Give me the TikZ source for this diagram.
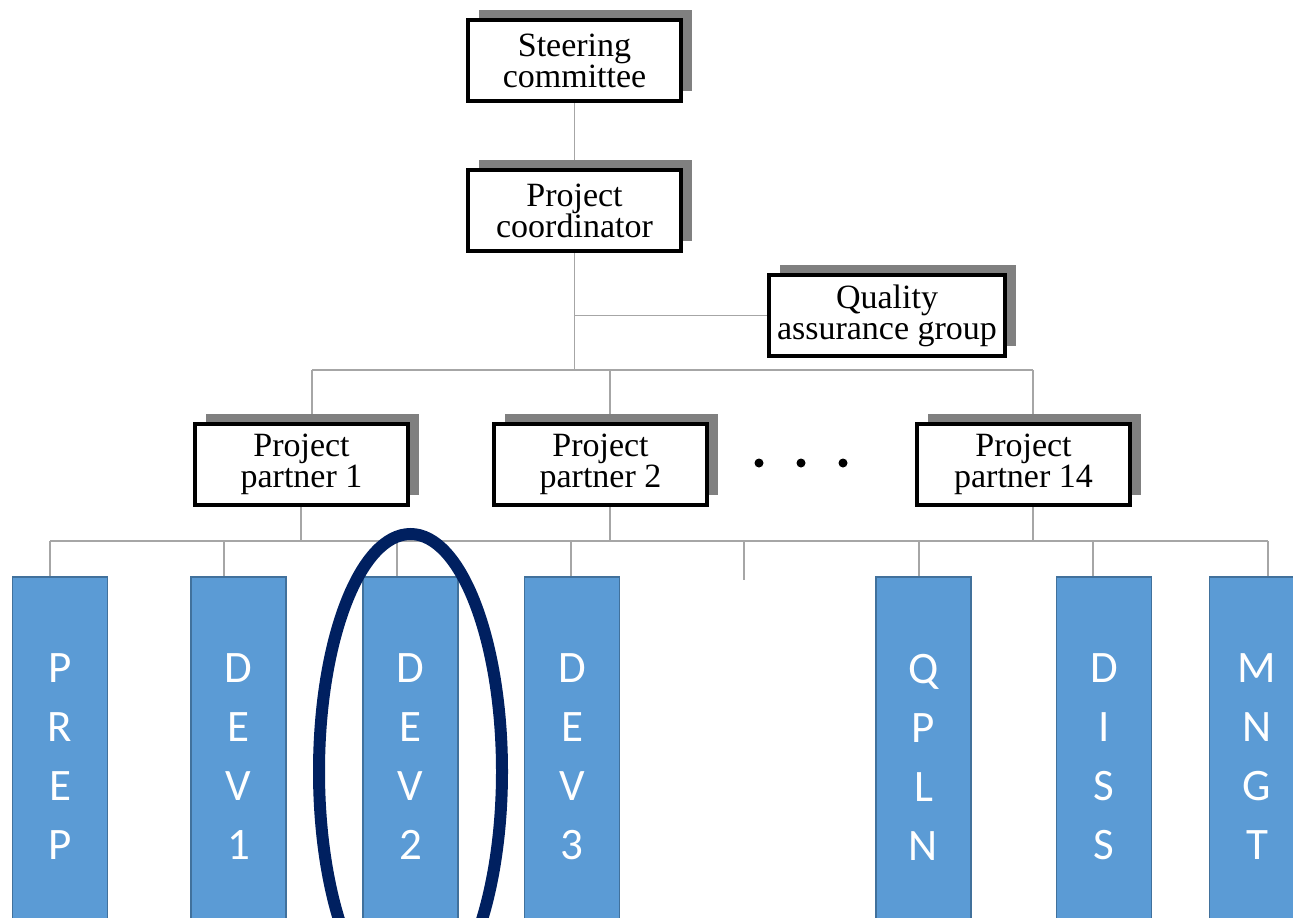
\documentclass[tikz,border=0pt]{standalone}
\usepackage{fontspec}
\setmainfont{Liberation Serif}
\newfontfamily\wpfont{Carlito}
\usetikzlibrary{positioning,shadows,backgrounds}
\definecolor{wpblue}{HTML}{5B9BD5}
\definecolor{wpedge}{HTML}{41719C}
\definecolor{navy}{HTML}{002060}
\definecolor{linegray}{HTML}{A6A6A6}
\definecolor{shadegray}{HTML}{808080}

\begin{document}
\begin{tikzpicture}
[x=1pt,y=-1pt,
 org/.style={rectangle,draw=black,line width=4.5pt,fill=white,minimum width=213pt,minimum height=81pt,inner sep=0pt,align=center,font=\fontsize{34}{31}\selectfont,drop shadow={shadow xshift=11pt,shadow yshift=10pt,fill=shadegray,opacity=1}},
 wp/.style={rectangle,draw=wpedge,line width=1.5pt,fill=wpblue,minimum width=95pt,minimum height=360pt,inner sep=0pt,align=center,text=white,font=\wpfont\fontsize{45}{59}\selectfont},
 link/.style={draw=linegray,line width=1.8pt},
 ring/.style={draw=navy,line width=12pt}]

\path[use as bounding box] (0,0) rectangle (1293,918);
\clip (0,0) rectangle (1293,918);

% management
\node[org] (Steer) at (574.5,60.5)                                {Steering\\committee};
\node[org] (Coord)  [on grid,below=150pt of Steer]                {Project\\coordinator};
\node[org,minimum width=236pt] (QA) [on grid,below right=105pt and 312.5pt of Coord] {Quality\\assurance group};

% partners
\node[org] (Part1)  [on grid,below left=254pt and 273pt of Coord] {Project\\partner 1};
\node[org] (Part2)  [on grid,right=299pt of Part1]                {Project\\partner 2};
\node[org] (Part14) [on grid,right=423pt of Part2]                {Project\\partner 14};
\fill (759,463) circle [radius=4.5];
\fill (801,463) circle [radius=4.5];
\fill (843,463) circle [radius=4.5];

% work packages
\node[wp] (PREP) at (60,757)                       {P\\R\\E\\P};
\node[wp] (DEV1) [on grid,right=178.5pt of PREP]   {D\\E\\V\\1};
\node[wp] (DEV2) [on grid,right=172pt of DEV1]     {D\\E\\V\\2};
\node[wp] (DEV3) [on grid,right=161.5pt of DEV2]   {D\\E\\V\\3};
\node[wp] (QPLN) [on grid,right=351.5pt of DEV3]   {Q\\P\\L\\N};
\node[wp] (DISS) [on grid,right=180.5pt of QPLN]   {D\\I\\S\\S};
\node[wp] (MNGT) [on grid,right=153pt of DISS]     {M\\N\\G\\T};

% bus lines
\coordinate (T1)  at (312,370);
\coordinate (T2)  at (610,370);
\coordinate (T14) at (1033,370);
\coordinate (B1)  at (301,541);
\coordinate (B2)  at (610,541);
\coordinate (B14) at (1033,541);
\coordinate (L0)  at (50,541);
\coordinate (L1)  at (224,541);
\coordinate (L2)  at (397,541);
\coordinate (L3)  at (571,541);
\coordinate (Lm)  at (744,541);
\coordinate (L4)  at (919,541);
\coordinate (L5)  at (1093,541);
\coordinate (L6)  at (1268,541);
\coordinate (Mend) at (744,580);

\begin{scope}[on background layer]
\path[link] (Steer) edge (Coord);
\draw[link] (Coord.south) -- (Coord.south |- T1);
\draw[link] (Coord.south |- QA.west) -- (QA.west);
\draw[link] (T1) -- (T14);
\draw[link] (T1)  -- (T1 |- Part1.north);
\draw[link] (T2)  -- (T2 |- Part2.north);
\draw[link] (T14) -- (T14 |- Part14.north);
\draw[link] (B1 |- Part1.south)   -- (B1);
\draw[link] (B2 |- Part2.south)   -- (B2);
\draw[link] (B14 |- Part14.south) -- (B14);
\draw[link] (L0) -- (L6);
\draw[link] (L0) -- (L0 |- PREP.north);
\draw[link] (L1) -- (L1 |- DEV1.north);
\draw[link] (L2) -- (L2 |- DEV2.north);
\draw[link] (L3) -- (L3 |- DEV3.north);
\draw[link] (Lm) -- (Mend);
\draw[link] (L4) -- (L4 |- QPLN.north);
\draw[link] (L5) -- (L5 |- DISS.north);
\draw[link] (L6) -- (L6 |- MNGT.north);
\end{scope}

% focus
\draw[ring] (410.5,771.5) ellipse [x radius=91.5,y radius=237.5];

\end{tikzpicture}
\end{document}
